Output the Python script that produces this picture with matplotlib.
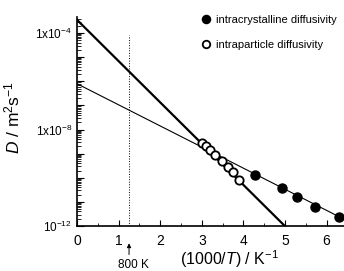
import numpy as np
import matplotlib
matplotlib.use("Agg")
import matplotlib.pyplot as plt
from matplotlib.ticker import LogLocator, FuncFormatter, MultipleLocator

plt.rcParams['font.family'] = ['Liberation Sans', 'DejaVu Sans']
plt.rcParams['mathtext.fontset'] = 'custom'
plt.rcParams['mathtext.rm'] = 'Liberation Sans'
plt.rcParams['mathtext.it'] = 'Liberation Sans:italic'

# データ (1000/T [K^-1], D [m^2 s^-1])
inv_T_crystal = [4.27, 4.92, 5.28, 5.73, 6.29]
D_crystal = [1.29e-10, 3.7e-11, 1.6e-11, 6.0e-12, 2.3e-12]

inv_T_particle = [3.00, 3.10, 3.20, 3.32, 3.48, 3.62, 3.76, 3.90]
D_particle = [2.8e-9, 2.0e-9, 1.4e-9, 9.1e-10, 4.8e-10, 2.9e-10, 1.7e-10, 8.3e-11]

# フィット直線の端点
fit_particle_x = [0.0, 5.2]
fit_particle_D = [3.5e-4, 4.5e-13]
fit_crystal_x = [0.0, 6.45]
fit_crystal_D = [7.9e-7, 1.8e-12]

T_mark = 800  # K

fig = plt.figure(figsize=(3.44, 2.71), dpi=100)
ax = fig.add_axes([0.224, 0.166, 0.776, 0.770])

ax.plot(fit_particle_x, fit_particle_D, 'k-', lw=1.6)
ax.plot(fit_crystal_x, fit_crystal_D, 'k-', lw=0.8)
ax.plot([1000 / T_mark] * 2, [1e-12, 8e-5], color='k', ls=':', lw=0.7)

h1, = ax.plot(inv_T_crystal, D_crystal, 'o', color='k', ms=6.5,
              label='intracrystalline diffusivity')
h2, = ax.plot(inv_T_particle, D_particle, 'o', mfc='white', mec='k', ms=6,
              mew=1.3, label='intraparticle diffusivity')

ax.set_yscale('log')
ax.set_xlim(0, 6.42)
ax.set_ylim(1e-12, 10 ** -3.35)

ax.xaxis.set_major_locator(MultipleLocator(1))
ax.xaxis.set_minor_locator(MultipleLocator(0.5))
ax.yaxis.set_major_locator(LogLocator(base=10, numticks=20))
ax.yaxis.set_minor_locator(LogLocator(base=10, subs=np.arange(2, 10), numticks=20))

labels = {-4: r'1x10$^{-4}$', -8: r'1x10$^{-8}$', -12: r'10$^{-12}$'}
ax.yaxis.set_major_formatter(FuncFormatter(
    lambda v, p: labels.get(int(round(np.log10(v))), '')))

ax.tick_params(axis='both', which='both', direction='in')
ax.tick_params(axis='x', which='major', length=4, labelsize=10, pad=6)
ax.tick_params(axis='x', which='minor', length=2.5)
ax.tick_params(axis='y', which='major', length=5, labelsize=8.5)
ax.tick_params(axis='y', which='minor', length=3)
for s in ['top', 'right']:
    ax.spines[s].set_visible(False)
for s in ['left', 'bottom']:
    ax.spines[s].set_linewidth(1.2)

ax.set_xlabel(r'(1000/$T$) / K$^{-1}$', fontsize=11.5)
ax.xaxis.set_label_coords(0.57, -0.105)
ax.set_ylabel(r'$D$ / m$^{2}$s$^{-1}$', fontsize=12.5)
ax.yaxis.set_label_coords(-0.205, 0.52)

# 800 K の矢印
ax.annotate('', xy=(1000 / T_mark, 10 ** -12.6), xytext=(1000 / T_mark, 10 ** -13.3),
            xycoords='data', annotation_clip=False,
            arrowprops=dict(arrowstyle='-|>', color='k', lw=0.7, mutation_scale=6))
ax.text(1000 / T_mark + 0.1, 10 ** -13.6, f'{T_mark} K', ha='center', va='center',
        fontsize=8.5, clip_on=False)

ax.legend(handles=[h1, h2], loc='upper right', bbox_to_anchor=(1.01, 1.06),
          frameon=False, fontsize=8.0, labelspacing=1.35, handletextpad=0.4,
          handlelength=1.0, markerscale=0.9)

fig.savefig('out.png', dpi=100)
